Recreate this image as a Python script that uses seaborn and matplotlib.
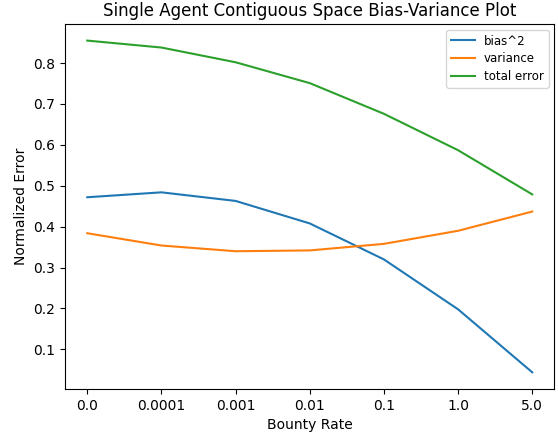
import matplotlib
matplotlib.use("Agg")
import matplotlib.pyplot as plt
import seaborn as sns
import pandas as pd

bounty_rates = ["0.0", "0.0001", "0.001", "0.01", "0.1", "1.0", "5.0"]
bias_sq = [0.472, 0.484, 0.463, 0.408, 0.320, 0.198, 0.044]
variance = [0.384, 0.354, 0.340, 0.342, 0.358, 0.390, 0.437]
total_error = [0.855, 0.838, 0.802, 0.751, 0.676, 0.587, 0.479]

series_names = ["bias^2", "variance", "total error"]
colors = ["#1f77b4", "#ff7f0e", "#2ca02c"]

rows = []
for name, vals in zip(series_names, [bias_sq, variance, total_error]):
    for x, v in zip(bounty_rates, vals):
        rows.append({"Bounty Rate": x, "value": v, "series": name})
df = pd.DataFrame(rows)

fig, ax = plt.subplots(figsize=(5.58, 4.36), dpi=100)
fig.subplots_adjust(left=0.1165, right=0.9937, top=0.945, bottom=0.108)

sns.lineplot(data=df, x="Bounty Rate", y="value", hue="series",
             hue_order=series_names, palette=colors, sort=False,
             linewidth=1.5, ax=ax)

ax.set_title("Single Agent Contiguous Space Bias-Variance Plot", fontsize=12)
ax.set_xlabel("Bounty Rate", fontsize=10)
ax.set_ylabel("Normalized Error", fontsize=10)
ax.set_yticks([0.1, 0.2, 0.3, 0.4, 0.5, 0.6, 0.7, 0.8])
ax.set_xlim(-0.3, 6.3)
ax.set_ylim(0.0034, 0.8956)
ax.legend(loc="upper right", fontsize=8.5, title=None, labelspacing=0.4)

fig.savefig("out.png", dpi=100)
